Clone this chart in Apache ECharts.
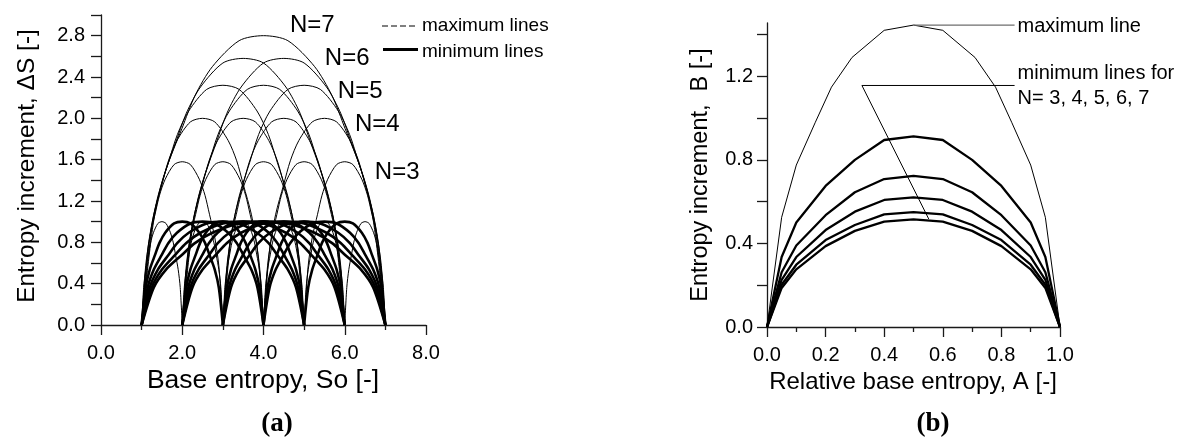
<!DOCTYPE html>
<html>
<head>
<meta charset="utf-8">
<script src="https://cdn.jsdelivr.net/npm/echarts@6/dist/echarts.min.js"></script>
<style>
  html, body { margin: 0; padding: 0; background: #ffffff; }
  #chart { width: 1185px; height: 439px; }
</style>
</head>
<body>
<div id="chart"></div>
<script>
// ---------- Panel (b): normalised curves over relative base entropy A ----------
const maxLineA = [0, 0.05, 0.1, 0.165, 0.22, 0.29, 0.4, 0.5, 0.6, 0.71, 0.78, 0.835, 0.9, 0.95, 1];
const maxLineB = [0, 0.525, 0.775, 0.98, 1.148, 1.29, 1.42, 1.445, 1.42, 1.29, 1.148, 0.98, 0.775, 0.525, 0];

const minLineA  = [0, 0.05, 0.1, 0.2, 0.3, 0.4, 0.5, 0.6, 0.7, 0.8, 0.9, 0.95, 1];
const minLineN3 = [0, 0.335, 0.50, 0.675, 0.80, 0.895, 0.912, 0.895, 0.80, 0.675, 0.50, 0.335, 0];
const minLineN4 = [0, 0.262, 0.39, 0.535, 0.645, 0.708, 0.723, 0.708, 0.645, 0.535, 0.39, 0.262, 0];
const minLineN5 = [0, 0.226, 0.335, 0.464, 0.552, 0.608, 0.62, 0.608, 0.552, 0.464, 0.335, 0.226, 0];
const minLineN6 = [0, 0.202, 0.298, 0.416, 0.488, 0.539, 0.55, 0.539, 0.488, 0.416, 0.298, 0.202, 0];
const minLineN7 = [0, 0.187, 0.276, 0.387, 0.46, 0.504, 0.515, 0.504, 0.46, 0.387, 0.276, 0.187, 0];

// ---------- Panel (a): arcs over base entropy So for N states ----------
const statesN = [2, 3, 4, 5, 6, 7];
const maxPeak = [1.0, 1.58, 2.0, 2.32, 2.58, 2.8];   // top of each maximum arc
const minPeak = [1.0, 1.0, 1.0, 1.0, 1.0, 1.0];      // top of each minimum arc
const firstBase = 1;
const lastBase = 7;

// ---------- Tick values ----------
const xTicksA = [0, 2, 4, 6, 8];
const yTicksA = [0, 0.2, 0.4, 0.6, 0.8, 1.0, 1.2, 1.4, 1.6, 1.8, 2.0, 2.2, 2.4, 2.6, 2.8, 3.0];
const yLabelsA = [0, 0.4, 0.8, 1.2, 1.6, 2.0, 2.4, 2.8];
const yTicksB = [0, 0.2, 0.4, 0.6, 0.8, 1.0, 1.2, 1.4];
const yLabelsB = [0, 0.4, 0.8, 1.2];

// ---------- Annotations ----------
const nLabels = ['N=7', 'N=6', 'N=5', 'N=4', 'N=3'];
const nLabelPos = [[5.2, 2.9], [6.06, 2.585], [6.38, 2.265], [6.8, 1.946], [7.29, 1.48]];
const maxLeader = [[0.5, 1.445], [0.845, 1.445]];
const minLeader = [[0.552, 0.517], [0.324, 1.156], [0.845, 1.156]];

const FONT = 'Liberation Sans, Arial, sans-serif';
const SERIF = 'Liberation Serif, Times New Roman, serif';
const INK = '#000000';
const AXIS = '#1a1a1a';

const chart = echarts.init(document.getElementById('chart'), null, { renderer: 'canvas' });

const series = [];
const profilePeak = Math.max.apply(null, maxLineB);

// one arc of panel (a): the normalised profile stretched over [start, start + span]
function arcData(start, span, peak) {
  return maxLineA.map((a, k) => [start + a * span, maxLineB[k] / profilePeak * peak]);
}

function lineSeries(name, xi, data, width, extra) {
  return Object.assign({
    name: name, type: 'line', xAxisIndex: xi, yAxisIndex: xi, data: data,
    showSymbol: false, symbol: 'none', silent: true, animation: false,
    lineStyle: { color: INK, width: width }
  }, extra || {});
}

statesN.forEach((n, i) => {
  const span = n - 1;
  for (let s = firstBase; s + span <= lastBase; s++) {
    series.push(lineSeries('max N=' + n, 0, arcData(s, span, maxPeak[i]), 1, { smooth: 0.28 }));
    if (n > 2) {
      series.push(lineSeries('min N=' + n, 0, arcData(s, span, minPeak[i]), 2.6, { smooth: 0.28 }));
    }
  }
});

series.push(lineSeries('maximum line', 1, maxLineA.map((a, k) => [a, maxLineB[k]]), 1));
[minLineN3, minLineN4, minLineN5, minLineN6, minLineN7].forEach((vals, i) => {
  series.push(lineSeries('minimum N=' + (i + 3), 1, minLineA.map((a, k) => [a, vals[k]]), 2.3));
});
series.push(lineSeries('max leader', 1, maxLeader, 1.4, { lineStyle: { color: '#6e6e6e', width: 1.4 } }));
series.push(lineSeries('min leader', 1, minLeader, 1));

const axisCommon = {
  axisLine: { show: true, onZero: false, lineStyle: { color: AXIS, width: 1.3 } },
  splitLine: { show: false },
  axisLabel: { color: INK, fontFamily: FONT, fontSize: 20 }
};

chart.setOption({
  animation: false,
  backgroundColor: '#ffffff',
  grid: [
    { left: 101, top: 15, width: 325, height: 310 },
    { left: 767, top: 23, width: 293, height: 304 }
  ],
  xAxis: [
    Object.assign({}, axisCommon, {
      type: 'value', gridIndex: 0, min: 0, max: 8, interval: 2,
      axisTick: { show: true, inside: false, length: 10, lineStyle: { color: AXIS, width: 1.3 } },
      minorTick: { show: true, splitNumber: 2, length: 5, lineStyle: { color: AXIS, width: 1.3 } },
      axisLabel: Object.assign({}, axisCommon.axisLabel, {
        margin: 18, customValues: xTicksA, formatter: v => v.toFixed(1)
      })
    }),
    Object.assign({}, axisCommon, {
      type: 'value', gridIndex: 1, min: 0, max: 1, interval: 0.2,
      axisTick: { show: true, inside: false, length: 10, lineStyle: { color: AXIS, width: 1.3 } },
      minorTick: { show: true, splitNumber: 2, length: 5, lineStyle: { color: AXIS, width: 1.3 } },
      axisLabel: Object.assign({}, axisCommon.axisLabel, { margin: 18, formatter: v => v.toFixed(1) })
    })
  ],
  yAxis: [
    Object.assign({}, axisCommon, {
      type: 'value', gridIndex: 0, min: 0, max: 3, interval: 0.2,
      axisTick: { show: true, inside: false, length: 10, customValues: yTicksA, lineStyle: { color: AXIS, width: 1.3 } },
      axisLabel: Object.assign({}, axisCommon.axisLabel, {
        margin: 16, customValues: yLabelsA, formatter: v => v.toFixed(1)
      })
    }),
    Object.assign({}, axisCommon, {
      type: 'value', gridIndex: 1, min: 0, max: 1.455, interval: 0.2,
      axisTick: { show: true, inside: false, length: 10, customValues: yTicksB, lineStyle: { color: AXIS, width: 1.3 } },
      axisLabel: Object.assign({}, axisCommon.axisLabel, {
        margin: 14, customValues: yLabelsB, formatter: v => v.toFixed(1)
      })
    })
  ],
  series: series
});

// ---------- Text and legend ----------
function text(str, x, y, opts) {
  return Object.assign({
    type: 'text', x: x, y: y, silent: true,
    style: Object.assign({
      text: str, fill: INK, font: '20px ' + FONT, align: 'left', verticalAlign: 'middle'
    }, (opts && opts.style) || {})
  }, opts ? { rotation: opts.rotation || 0 } : {});
}

const graphics = [];

// axis titles
graphics.push(text('Entropy increment, \u0394S [-]', 27, 166,
  { rotation: Math.PI / 2, style: { align: 'center', font: '24.5px ' + FONT } }));
graphics.push(text('Base entropy, So [-]', 263, 381, { style: { align: 'center', font: '26.5px ' + FONT } }));
graphics.push(text('Entropy increment,  B [-]', 701, 175,
  { rotation: Math.PI / 2, style: { align: 'center', font: '23.5px ' + FONT } }));
graphics.push(text('Relative base entropy, A [-]', 913, 382, { style: { align: 'center', font: '24px ' + FONT } }));

// panel captions
graphics.push(text('(a)', 277, 424, { style: { align: 'center', font: 'bold 27px ' + SERIF } }));
graphics.push(text('(b)', 933, 424, { style: { align: 'center', font: 'bold 27px ' + SERIF } }));

// N labels in panel (a)
nLabels.forEach((lab, i) => {
  const p = chart.convertToPixel({ gridIndex: 0 }, nLabelPos[i]);
  graphics.push(text(lab, p[0], p[1], { style: { align: 'center', font: '24px ' + FONT } }));
});

// legend of panel (a)
graphics.push({ type: 'line', silent: true, shape: { x1: 382, y1: 26, x2: 417, y2: 26 },
  style: { stroke: INK, lineWidth: 1, lineDash: [6, 3] } });
graphics.push(text('maximum lines', 422, 26, { style: { font: '19px ' + FONT } }));
graphics.push({ type: 'line', silent: true, shape: { x1: 383, y1: 49.5, x2: 418, y2: 49.5 },
  style: { stroke: INK, lineWidth: 3 } });
graphics.push(text('minimum lines', 422, 52, { style: { font: '19px ' + FONT } }));

// leader texts in panel (b)
const pMax = chart.convertToPixel({ gridIndex: 1 }, maxLeader[1]);
graphics.push(text('maximum line', pMax[0] + 3, pMax[1] + 1, { style: { font: '20px ' + FONT } }));
const pMin = chart.convertToPixel({ gridIndex: 1 }, minLeader[2]);
graphics.push(text('minimum lines for', pMin[0] + 3, pMin[1] - 12, { style: { font: '20px ' + FONT } }));
graphics.push(text('N= 3, 4, 5, 6, 7', pMin[0] + 3, pMin[1] + 13, { style: { font: '20px ' + FONT } }));

chart.setOption({ graphic: graphics });
</script>
</body>
</html>
